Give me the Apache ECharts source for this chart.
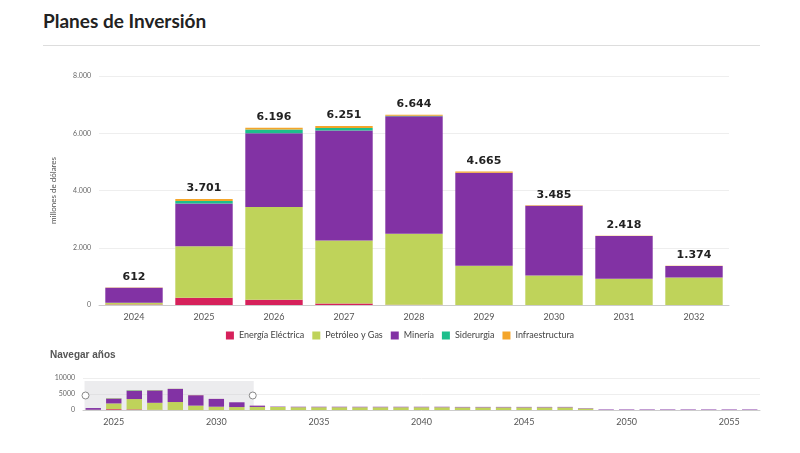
<!DOCTYPE html>
<html>
<head>
<meta charset="utf-8">
<script src="https://cdn.jsdelivr.net/npm/echarts@6/dist/echarts.min.js"></script>
<style>
  body { margin: 0; background: #fff; font-family: Lato, "Noto Sans", sans-serif; }
  #title { position: absolute; left: 43px; top: 9px; font: bold 19px Lato, sans-serif; color: #222; }
  #rule { position: absolute; left: 43px; top: 45px; width: 717px; border-top: 1px solid #ddd; }
  #chart { width: 800px; height: 453px; }
</style>
</head>
<body>
<div id="title">Planes de Inversión</div>
<div id="rule"></div>
<div id="chart"></div>
<script>
var years = [];
for (var y = 2024; y <= 2056; y++) years.push(String(y));

var energia = [20, 250, 180, 50, 10, 0, 0, 0, 0, 0, 0, 0, 0, 0, 0, 0, 0, 0, 0, 0, 0, 0, 0, 0, 0, 0, 0, 0, 0, 0, 0, 0, 0];
var petroleo = [60, 1800, 3240, 2200, 2480, 1370, 1030, 920, 960, 950, 870, 870, 870, 860, 860, 860, 860, 860, 820, 820, 820, 820, 820, 820, 450, 0, 0, 0, 0, 0, 0, 0, 0];
var mineria = [525, 1500, 2580, 3850, 4100, 3250, 2440, 1490, 400, 120, 150, 150, 150, 150, 150, 150, 150, 150, 150, 150, 150, 150, 150, 150, 120, 150, 150, 150, 150, 150, 150, 150, 150];
var siderurgia = [0, 80, 130, 80, 20, 0, 0, 0, 0, 0, 0, 0, 0, 0, 0, 0, 0, 0, 0, 0, 0, 0, 0, 0, 0, 0, 0, 0, 0, 0, 0, 0, 0];
var infra = [7, 71, 66, 71, 34, 45, 15, 8, 14, 0, 0, 0, 0, 0, 0, 0, 0, 0, 0, 0, 0, 0, 0, 0, 0, 0, 0, 0, 0, 0, 0, 0, 0];

var names = ['Energía Eléctrica', 'Petróleo y Gas', 'Minería', 'Siderurgia', 'Infraestructura'];
var colors = ['#d6215b', '#bfd35a', '#8232a4', '#1dbf8c', '#f4a52a'];
var data = [energia, petroleo, mineria, siderurgia, infra];

var totals = years.map(function (_, i) {
  return energia[i] + petroleo[i] + mineria[i] + siderurgia[i] + infra[i];
});

function fmt(v) {
  return String(Math.round(v)).replace(/\B(?=(\d{3})+(?!\d))/g, '.');
}

var chart = echarts.init(document.getElementById('chart'));

var series = [];
data.forEach(function (d, k) {
  series.push({
    name: names[k], type: 'bar', stack: 'main', data: d,
    itemStyle: { color: colors[k] }, barCategoryGap: '18%',
    xAxisIndex: 0, yAxisIndex: 0
  });
  series.push({
    name: names[k], type: 'bar', stack: 'nav', data: d,
    itemStyle: { color: colors[k] }, barCategoryGap: '25%',
    xAxisIndex: 1, yAxisIndex: 1, silent: true, z: 6
  });
});
// total labels on top
series.push({
  name: 'total', type: 'bar', stack: 'main', data: totals.map(function () { return 0; }),
  xAxisIndex: 0, yAxisIndex: 0,
  label: {
    show: true, position: 'top', fontWeight: 'bold', fontSize: 11, color: '#222',
    fontFamily: 'DejaVu Sans',
    formatter: function (p) { return fmt(totals[p.dataIndex]); }
  }
});

chart.setOption({
  animation: false,
  textStyle: { fontFamily: 'Lato, sans-serif' },
  legend: {
    data: names, top: 326, left: 'center', itemWidth: 8, itemHeight: 8, itemGap: 8,
    icon: 'rect', textStyle: { fontSize: 9, color: '#444' }
  },
  graphic: [{
    type: 'text', left: 50, top: 350,
    style: { text: 'Navegar años', fontSize: 10, fontWeight: 'bold', fill: '#555' }
  }],
  grid: [
    { left: 99, right: 71, top: 76, bottom: 148 },
    { left: 83, right: 40, top: 378, bottom: 43 }
  ],
  xAxis: [
    {
      type: 'category', data: years, gridIndex: 0,
      axisLine: { lineStyle: { color: '#ccc' } }, axisTick: { show: false },
      axisLabel: { color: '#555', fontSize: 9 }
    },
    {
      type: 'category', data: years, gridIndex: 1,
      axisLine: { lineStyle: { color: '#ccc' } }, axisTick: { show: false },
      axisLabel: {
        color: '#555', fontSize: 9,
        interval: function (i, v) { return Number(v) % 5 === 0; }
      }
    }
  ],
  yAxis: [
    {
      type: 'value', gridIndex: 0, min: 0, max: 8000, interval: 2000,
      name: 'millones de dólares', nameLocation: 'middle', nameGap: 42,
      nameTextStyle: { fontSize: 8, color: '#555' },
      axisLabel: { fontSize: 7, color: '#666', formatter: fmt },
      splitLine: { lineStyle: { color: '#eee' } }
    },
    {
      type: 'value', gridIndex: 1, min: 0, max: 10000, interval: 5000,
      axisLabel: { fontSize: 7, color: '#666', formatter: function (v) { return String(v); } },
      splitLine: { lineStyle: { color: '#eee' } }
    }
  ],
  dataZoom: [{
    type: 'slider', xAxisIndex: 0, startValue: 0, endValue: 8, z: 1,
    left: 83, right: 40, top: 381, height: 29,
    showDataShadow: false, showDetail: false,
    backgroundColor: 'rgba(0,0,0,0)', borderColor: 'transparent',
    fillerColor: 'rgba(200,200,205,0.35)',
    handleIcon: 'circle', handleSize: 7,
    handleStyle: { color: '#fff', borderColor: '#888' },
    moveHandleSize: 0, brushSelect: false,
    dataBackground: { lineStyle: { opacity: 0 }, areaStyle: { opacity: 0 } }
  }],
  series: series
});
</script>
</body>
</html>
